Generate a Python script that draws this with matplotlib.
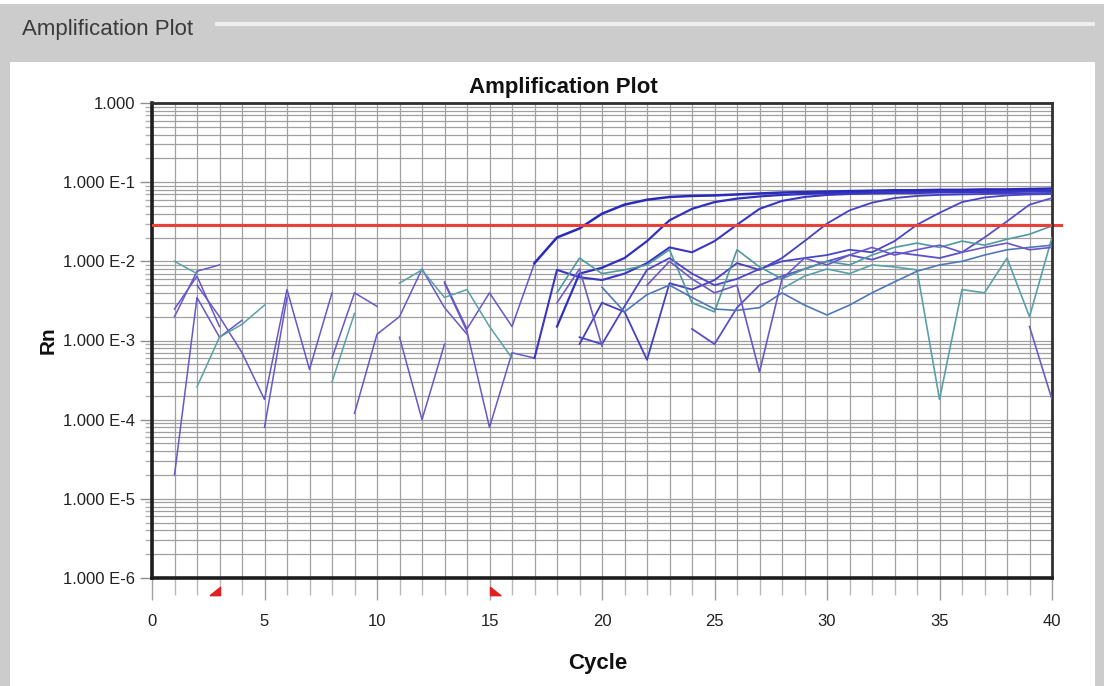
import numpy as np
import matplotlib
matplotlib.use("Agg")
import matplotlib.pyplot as plt
from matplotlib.patches import Rectangle
from matplotlib.path import Path
from matplotlib.ticker import FixedLocator, NullFormatter
import matplotlib.transforms as mtransforms

plt.rcParams['font.family'] = ['Liberation Sans Narrow', 'Liberation Sans', 'DejaVu Sans']

nan = np.nan

# Rn per cycle for each well (nan = negative / not drawn on log axis)
cycles = np.arange(1, 41)

well_a = [2.0e-3, 7.5e-3, 9.0e-3, nan, nan, nan, nan, nan, nan, nan,
          nan, nan, 5.5e-3, 1.4e-3, 4.0e-3, 1.5e-3, 9.5e-3, 2.0e-2, 2.6e-2, 4.0e-2,
          5.2e-2, 6.0e-2, 6.5e-2, 6.7e-2, 6.8e-2, 7.0e-2, 7.2e-2, 7.4e-2, 7.5e-2, 7.6e-2,
          7.7e-2, 7.8e-2, 7.9e-2, 7.9e-2, 8.0e-2, 8.0e-2, 8.1e-2, 8.1e-2, 8.2e-2, 8.3e-2]
well_b = [2.5e-3, 6.5e-3, 1.5e-3, nan, nan, nan, nan, nan, 1.2e-4, 1.2e-3,
          2.0e-3, 8.0e-3, 2.6e-3, 1.2e-3, nan, nan, nan, 1.5e-3, 7.0e-3, 8.3e-3,
          1.1e-2, 1.8e-2, 3.3e-2, 4.6e-2, 5.6e-2, 6.2e-2, 6.6e-2, 6.9e-2, 7.1e-2, 7.3e-2,
          7.3e-2, 7.4e-2, 7.5e-2, 7.5e-2, 7.6e-2, 7.6e-2, 7.7e-2, 7.7e-2, 7.8e-2, 7.8e-2]
well_c = [nan, 5.0e-3, 2.0e-3, 7.0e-4, 1.8e-4, 4.4e-3, 4.3e-4, 4.0e-3, nan, nan,
          nan, nan, 5.3e-3, 1.3e-3, 8.0e-5, 7.0e-4, 6.0e-4, 7.8e-3, 6.3e-3, 5.8e-3,
          7.0e-3, 9.5e-3, 1.5e-2, 1.3e-2, 1.8e-2, 2.9e-2, 4.6e-2, 5.8e-2, 6.5e-2, 6.9e-2,
          7.1e-2, 7.2e-2, 7.3e-2, 7.3e-2, 7.4e-2, 7.4e-2, 7.5e-2, 7.5e-2, 7.6e-2, 7.6e-2]
well_d = [nan, nan, nan, nan, nan, nan, nan, 6.0e-4, 4.0e-3, 2.7e-3,
          nan, nan, nan, nan, nan, nan, nan, nan, 9.0e-4, 3.0e-3,
          2.3e-3, 5.7e-4, 5.3e-3, 4.4e-3, 5.8e-3, 9.5e-3, 7.8e-3, 1.1e-2, 1.8e-2, 3.0e-2,
          4.4e-2, 5.5e-2, 6.3e-2, 6.7e-2, 6.9e-2, 7.0e-2, 7.1e-2, 7.2e-2, 7.2e-2, 7.3e-2]
well_e = [nan, nan, nan, nan, nan, nan, nan, nan, nan, nan,
          1.1e-3, 1.0e-4, 9.0e-4, nan, nan, nan, nan, nan, 1.1e-3, 9.0e-4,
          2.7e-3, 7.8e-3, 1.1e-2, 7.0e-3, 5.0e-3, 6.0e-3, 8.0e-3, 1.0e-2, 1.1e-2, 1.2e-2,
          1.4e-2, 1.3e-2, 1.8e-2, 2.9e-2, 4.1e-2, 5.6e-2, 6.4e-2, 6.8e-2, 7.0e-2, 7.1e-2]
well_f = [2.0e-5, 3.5e-3, 1.1e-3, 1.8e-3, nan, nan, nan, nan, nan, nan,
          nan, nan, nan, nan, nan, nan, nan, nan, nan, nan,
          nan, nan, nan, 1.4e-3, 9.0e-4, 2.6e-3, 5.0e-3, 6.5e-3, 8.0e-3, 1.0e-2,
          1.2e-2, 1.05e-2, 1.3e-2, 1.2e-2, 1.1e-2, 1.3e-2, 2.0e-2, 3.2e-2, 5.2e-2, 6.3e-2]
well_g = [1.0e-2, 7.0e-3, nan, nan, nan, nan, nan, nan, nan, nan,
          5.3e-3, 7.8e-3, 3.5e-3, 4.4e-3, 1.5e-3, 6.0e-4, nan, 4.0e-3, 1.1e-2, 7.0e-3,
          7.8e-3, 9.0e-3, 1.4e-2, 3.0e-3, 2.3e-3, 1.4e-2, 8.5e-3, 6.0e-3, 8.0e-3, 1.0e-2,
          9.0e-3, 1.2e-2, 1.5e-2, 1.7e-2, 1.5e-2, 1.8e-2, 1.6e-2, 1.9e-2, 2.2e-2, 2.8e-2]
well_h = [nan, 2.6e-4, 1.1e-3, 1.6e-3, 2.8e-3, nan, nan, 3.0e-4, 2.2e-3, nan,
          nan, nan, nan, nan, nan, nan, nan, nan, nan, nan,
          nan, nan, nan, nan, nan, nan, nan, 4.5e-3, 6.5e-3, 8.0e-3,
          7.0e-3, 9.0e-3, 8.5e-3, 7.8e-3, 1.8e-4, 4.4e-3, 4.0e-3, 1.1e-2, 2.0e-3, 2.0e-2]
well_i = [nan, nan, nan, nan, 8.0e-5, 3.5e-3, nan, nan, nan, nan,
          nan, nan, nan, nan, nan, nan, nan, nan, nan, 4.7e-3,
          2.3e-3, 3.8e-3, 5.0e-3, 3.5e-3, 2.5e-3, 2.4e-3, 2.6e-3, 4.0e-3, 2.8e-3, 2.1e-3,
          2.8e-3, 4.0e-3, 5.5e-3, 7.5e-3, 9.0e-3, 1.0e-2, 1.2e-2, 1.4e-2, 1.5e-2, 1.6e-2]
well_j = [nan, nan, nan, nan, nan, nan, nan, nan, nan, nan,
          nan, nan, nan, nan, nan, nan, nan, nan, nan, nan,
          nan, 5.0e-3, 1.0e-2, 6.0e-3, 4.0e-3, 5.0e-3, 4.0e-4, 6.0e-3, 1.1e-2, 9.0e-3,
          1.2e-2, 1.5e-2, 1.2e-2, 1.4e-2, 1.6e-2, 1.3e-2, 1.5e-2, 1.7e-2, 1.4e-2, 1.5e-2]
well_k = [nan, nan, nan, nan, nan, nan, nan, nan, nan, nan,
          nan, nan, nan, nan, nan, nan, nan, 3.0e-3, 8.0e-3, 8.5e-4,
          nan, nan, nan, nan, nan, nan, nan, nan, nan, nan,
          nan, nan, nan, nan, nan, nan, nan, nan, 1.5e-3, 1.8e-4]

wells = [well_a, well_b, well_c, well_d, well_e, well_f,
         well_g, well_h, well_i, well_j, well_k]
well_colors = ['#2a2ab8', '#3030bc', '#3a36c4', '#4440c0', '#4a46c8', '#5a50c8',
               '#4f9a9e', '#5aa0a8', '#5078b8', '#6a58c8', '#6e5cc4']
well_widths = [1.8, 1.6, 1.5, 1.3, 1.3, 1.3, 1.2, 1.2, 1.2, 1.2, 1.2]
teal_wells = {6, 7}

threshold = 0.029
baseline_start, baseline_end = 3, 15

y_ticks = [1e-6, 1e-5, 1e-4, 1e-3, 1e-2, 1e-1, 1]
y_labels = ['1.000 E-6', '1.000 E-5', '1.000 E-4', '1.000 E-3',
            '1.000 E-2', '1.000 E-1', '1.000']
x_ticks = [0, 5, 10, 15, 20, 25, 30, 35, 40]

W, H = 1104, 686
fig = plt.figure(figsize=(W / 100, H / 100), dpi=100)
fig.patch.set_facecolor('white')

# window frame of the screenshot
def frame_rect(x0, y0, x1, y1, color):
    fig.add_artist(Rectangle((x0 / W, 1 - y1 / H), (x1 - x0) / W, (y1 - y0) / H,
                             transform=fig.transFigure, facecolor=color,
                             edgecolor='none', zorder=-2))

frame_rect(0, 4, W, 62, '#cccccc')
frame_rect(0, 4, 10, H, '#cccccc')
frame_rect(W - 9, 4, W, H, '#cccccc')
frame_rect(215, 22, W - 9, 26, '#eeeeee')
frame_rect(10, 62, W - 9, H, 'white')
fig.text(22 / W, 1 - 30 / H, 'Amplification Plot', fontsize=16, color='#3a3a3a',
         va='center', ha='left')

ax = fig.add_axes([152 / W, 1 - 578 / H, 900 / W, 475 / H])
ax.set_yscale('log')
ax.set_xlim(0, 40)
ax.set_ylim(1e-6, 1)

# baseline-region noise drawn thin, amplification part in the well colour
for n, (vals, c, lw) in enumerate(zip(wells, well_colors, well_widths)):
    vals = np.array(vals)
    noise_c = '#5aa0a4' if n in teal_wells else '#6658c8'
    ax.plot(cycles[:17], vals[:17], color=noise_c, lw=1.1, zorder=3)
    ax.plot(cycles[16:], vals[16:], color=c, lw=lw, zorder=3)

ax.axhline(threshold, color='#e8403a', lw=2.2, zorder=4)
ax.plot([40, 40.4], [threshold, threshold], color='#e8403a', lw=2.2, clip_on=False)

# grid: every cycle, log minor decades
ax.xaxis.set_major_locator(FixedLocator(x_ticks))
ax.xaxis.set_minor_locator(FixedLocator(np.arange(0, 41)))
ax.yaxis.set_major_locator(FixedLocator(y_ticks))
ax.yaxis.set_minor_locator(FixedLocator(
    [k * 10.0 ** e for e in range(-6, 0) for k in range(2, 10)]))
ax.yaxis.set_minor_formatter(NullFormatter())
ax.set_yticklabels(y_labels)
ax.set_xticklabels([str(t) for t in x_ticks])
ax.grid(which='both', color='#a0a0a0', lw=0.9, zorder=1)
ax.set_axisbelow(True)

ax.tick_params(axis='x', which='major', length=16, width=1, color='#a0a0a0',
               pad=10, labelsize=12, labelcolor='#222222')
ax.tick_params(axis='x', which='minor', length=12, width=1, color='#b8b8b8')
ax.tick_params(axis='y', which='major', length=9, width=1, color='#909090',
               pad=3, labelsize=12, labelcolor='#222222')
ax.tick_params(axis='y', which='minor', length=5, width=1, color='#b0b0b0')

for side in ['left', 'bottom']:
    ax.spines[side].set_linewidth(2.6)
    ax.spines[side].set_color('#1e1e1e')
for side in ['top', 'right']:
    ax.spines[side].set_linewidth(2.0)
    ax.spines[side].set_color('#303030')

# baseline markers below the axis
trans = mtransforms.blended_transform_factory(ax.transData, ax.transAxes)
left_tri = Path([(-1, -0.4), (0, -0.4), (0, 0.4), (-1, -0.4)])
right_tri = Path([(0, -0.4), (1, -0.4), (0, 0.4), (0, -0.4)])
ax.plot([baseline_start], [-0.028], marker=left_tri, ms=15, color='#e02020',
        transform=trans, clip_on=False, lw=0)
ax.plot([baseline_end], [-0.028], marker=right_tri, ms=15, color='#e02020',
        transform=trans, clip_on=False, lw=0)

fig.text(563 / W, 1 - 88 / H, 'Amplification Plot', fontsize=16, fontweight='bold',
         ha='center', va='center', color='#111111')
fig.text(598 / W, 1 - 664 / H, 'Cycle', fontsize=16, fontweight='bold',
         ha='center', va='center', color='#111111')
fig.text(48 / W, 1 - 340 / H, 'Rn', fontsize=15, fontweight='bold', rotation=90,
         ha='center', va='center', color='#111111')

fig.savefig('out.png', dpi=100)
